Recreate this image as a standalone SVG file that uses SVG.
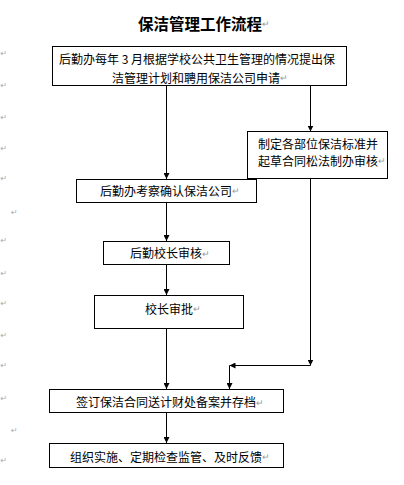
<svg xmlns="http://www.w3.org/2000/svg" width="404" height="485" viewBox="0 0 404 485">
<style>
.bx{fill:#fff;stroke:#000;stroke-width:1}
.t{font-family:"Noto Sans CJK SC","Noto Sans",sans-serif;font-size:12px;fill:#000;dominant-baseline:central}
.ttl{font-family:"Noto Sans CJK SC","Noto Sans",sans-serif;font-size:15.5px;font-weight:bold;fill:#000;dominant-baseline:central}
.pm{fill:#999;font-size:9px;font-weight:normal}
.lm{font-family:"DejaVu Sans",sans-serif;font-size:8px;fill:#aaa;dominant-baseline:central}
.c{fill:none;stroke:#000;stroke-width:1;marker-end:url(#ah)}
</style>
<defs>
<marker id="ah" viewBox="0 0 6 6" refX="6" refY="3" markerWidth="6" markerHeight="6" markerUnits="userSpaceOnUse" orient="auto">
<path d="M0,0 L6,3 L0,6 z" fill="#000"/>
</marker>
</defs>
<rect width="404" height="485" fill="#fff"/>
<g id="title"><text class="ttl" x="138" y="23">保洁管理工作流程<tspan class="pm">↵</tspan></text></g>
<g id="margin-marks">
<text class="lm" x="0.5" y="53">↵</text>
<text class="lm" x="0.5" y="85">↵</text>
<text class="lm" x="0.5" y="117">↵</text>
<text class="lm" x="0.5" y="148">↵</text>
<text class="lm" x="0.5" y="178">↵</text>
<text class="lm" x="11" y="212">↵</text>
<text class="lm" x="0.5" y="240">↵</text>
<text class="lm" x="0.5" y="273">↵</text>
<text class="lm" x="0.5" y="303">↵</text>
<text class="lm" x="0.5" y="335">↵</text>
<text class="lm" x="0.5" y="365">↵</text>
<text class="lm" x="0.5" y="398">↵</text>
<text class="lm" x="11" y="430">↵</text>
<text class="lm" x="0.5" y="460">↵</text>
</g>
<g id="connectors">
<path class="c" d="M166.5,85.5 V179"/>
<path class="c" d="M310.5,85.5 V131.5"/>
<path class="c" d="M166.5,202.5 V241"/>
<path class="c" d="M166.5,264.5 V295"/>
<path class="c" d="M166.5,328.5 V389"/>
<path class="c" d="M310.5,178.5 V365.5"/>
<path class="c" d="M310.5,365.5 H229.5"/>
<path class="c" d="M229.5,365.5 V389"/>
<path class="c" d="M166.5,412.5 V443"/>
</g>
<g id="n1"><rect class="bx" x="52.5" y="46.5" width="294" height="39"/>
<text class="t" x="59" y="58">后勤办每年 3 月根据学校公共卫生管理的情况提出保</text>
<text class="t" x="112" y="77">洁管理计划和聘用保洁公司申请<tspan class="pm">↵</tspan></text></g>
<g id="n2"><rect class="bx" x="247.5" y="131.5" width="140" height="47"/>
<text class="t" x="258" y="143">制定各部位保洁标准并</text>
<text class="t" x="258" y="160">起草合同松法制办审核<tspan class="pm">↵</tspan></text></g>
<g id="n3"><rect class="bx" x="76.5" y="179.5" width="180" height="23"/>
<text class="t" x="100" y="190">后勤办考察确认保洁公司<tspan class="pm">↵</tspan></text></g>
<g id="n4"><rect class="bx" x="103.5" y="241.5" width="126" height="23"/>
<text class="t" x="130" y="252.5">后勤校长审核<tspan class="pm">↵</tspan></text></g>
<g id="n5"><rect class="bx" x="94.5" y="295.5" width="149" height="33"/>
<text class="t" x="145" y="308">校长审批<tspan class="pm">↵</tspan></text></g>
<g id="n6"><rect class="bx" x="49.5" y="389.5" width="234" height="23"/>
<text class="t" x="76" y="401.5">签订保洁合同送计财处备案并存档<tspan class="pm">↵</tspan></text></g>
<g id="n7"><rect class="bx" x="49.5" y="443.5" width="234" height="24"/>
<text class="t" x="70" y="456">组织实施、定期检查监管、及时反馈<tspan class="pm">↵</tspan></text></g>
</svg>
